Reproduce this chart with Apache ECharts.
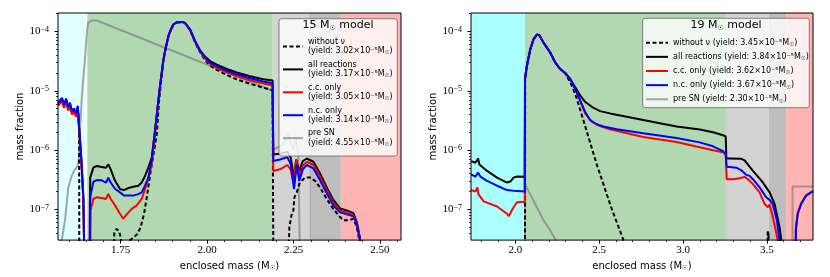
<!DOCTYPE html>
<html><head><meta charset="utf-8">
<script src="https://cdn.jsdelivr.net/npm/echarts@6/dist/echarts.min.js"></script>
<style>html,body{margin:0;padding:0;background:#fff}#c{width:830px;height:277px}</style>
</head><body><div id="c"></div>
<script>
// ---------------- data (enclosed mass [Msun], mass fraction) ----------------
// 15 Msun model
const L_without = [[1.569,5.98e-6],[1.574,6.53e-6],[1.580,7.17e-6],[1.586,5.54e-6],[1.592,6.98e-6],[1.598,5.00e-6],[1.603,5.98e-6],[1.609,4.29e-6],[1.615,4.76e-6],[1.621,3.93e-6],[1.626,5.27e-6],[1.6294,2.6e-6],[1.6300,2.8e-7],[1.6303,1e-9],
[1.7234,1e-9],[1.7316,4.03e-8],[1.7385,4.70e-8],[1.7451,4.30e-8],[1.7509,3.24e-8],[1.7558,1e-9],[1.7720,1e-9],[1.7770,3.05e-8],[1.7865,3.33e-8],[1.7981,3.84e-8],[1.8079,5.07e-8],[1.8175,8.45e-8],[1.8270,1.81e-7],[1.8369,4.46e-7],[1.8464,9.6e-7],[1.8542,1.8e-6],[1.8617,7.4e-6],
[1.873,3.1e-5],[1.8783,4.6e-5],[1.888,8.2e-5],[1.8928,9.9e-5],[1.902,1.30e-4],[1.911,1.41e-4],[1.9217,1.44e-4],[1.930,1.43e-4],[1.9362,1.38e-4],[1.9507,1.05e-4],[1.9651,6.6e-5],
[1.9796,4.48e-5],[1.9940,3.29e-5],[2.0085,2.67e-5],[2.0279,2.25e-5],[2.0568,1.85e-5],[2.0858,1.56e-5],[2.1243,1.31e-5],[2.1627,1.13e-5],[2.1895,1.02e-5],[2.1925,1e-9],
[2.2314,1e-9],[2.2380,5.07e-8],[2.2450,8.45e-8],[2.2496,9.62e-8],[2.2525,1.60e-7],[2.2594,1.94e-7],[2.2669,2.67e-7],[2.2739,3.04e-7],[2.2834,3.44e-7],[2.2884,3.58e-7],[2.2979,3.44e-7],[2.3124,3.04e-7],[2.3268,2.35e-7],[2.3462,1.50e-7],[2.3653,1.02e-7],[2.3847,7.44e-8],[2.3942,6.56e-8],[2.4088,6.56e-8],[2.4232,6.98e-8],[2.4330,5.07e-8],[2.4406,3.0e-8],[2.444,1e-9]];
const L_all = [[1.569,5.98e-6],[1.574,6.53e-6],[1.580,7.17e-6],[1.586,5.54e-6],[1.592,6.98e-6],[1.598,5.00e-6],[1.603,5.98e-6],[1.609,4.29e-6],[1.615,4.76e-6],[1.621,3.93e-6],[1.626,5.27e-6],[1.630,2.21e-6],[1.636,7.0e-7],[1.642,1.51e-7],[1.648,1e-9],
[1.6600,1e-9],[1.6618,3.44e-7],[1.6708,5.06e-7],[1.6806,5.40e-7],[1.6951,5.19e-7],[1.7075,5.06e-7],[1.7142,5.74e-7],[1.7211,4.74e-7],[1.7336,3.04e-7],[1.7480,2.20e-7],[1.7596,2.12e-7],[1.7720,2.29e-7],[1.7865,2.41e-7],[1.8010,2.51e-7],[1.8108,2.84e-7],[1.8204,3.68e-7],[1.8299,5.06e-7],[1.8398,7.41e-7],
[1.851,2.6e-6],[1.862,1.0e-5],[1.873,3.17e-5],[1.8783,4.7e-5],[1.888,8.35e-5],[1.8928,1.0e-4],[1.902,1.31e-4],[1.911,1.42e-4],[1.9217,1.45e-4],[1.930,1.44e-4],[1.9362,1.40e-4],[1.9507,1.08e-4],[1.9651,6.95e-5],
[1.9796,4.82e-5],[1.9940,3.77e-5],[2.0085,3.17e-5],[2.0279,2.77e-5],[2.0568,2.33e-5],[2.0858,2.04e-5],[2.1243,1.76e-5],[2.1627,1.57e-5],[2.1895,1.49e-5],
[2.1915,8.41e-7],[2.2111,8.65e-7],[2.2322,9.34e-7],[2.2420,7.41e-7],[2.2516,3.44e-7],[2.2574,6.95e-7],[2.2669,4.46e-7],[2.2768,6.54e-7],[2.2884,7.22e-7],[2.3075,6.37e-7],[2.3268,4.02e-7],[2.3462,2.35e-7],[2.3653,1.45e-7],[2.3847,1.04e-7],[2.4041,9.62e-8],[2.4232,8.68e-8],[2.4330,6.15e-8],[2.4426,3.24e-8],[2.446,1e-9]];
const L_cc = [[1.569,5.55e-6],[1.574,6.06e-6],[1.580,6.64e-6],[1.586,5.14e-6],[1.592,6.47e-6],[1.598,4.64e-6],[1.603,5.55e-6],[1.609,3.97e-6],[1.615,4.41e-6],[1.621,3.64e-6],[1.626,4.88e-6],[1.630,2.05e-6],[1.636,6.5e-7],[1.642,1.4e-7],[1.648,1e-9],
[1.6612,1e-9],[1.6629,9.7e-8],[1.6708,1.50e-7],[1.6806,1.60e-7],[1.6951,1.56e-7],[1.7075,1.50e-7],[1.7142,1.82e-7],[1.7211,1.50e-7],[1.7336,1.17e-7],[1.7480,8.45e-8],[1.7576,6.98e-8],[1.7674,8.26e-8],[1.7819,1.02e-7],[1.7963,1.17e-7],[1.8108,1.50e-7],[1.8253,2.67e-7],[1.8398,5.74e-7],
[1.851,2.4e-6],[1.862,9.6e-6],[1.873,3.1e-5],[1.8783,4.6e-5],[1.888,8.2e-5],[1.8928,9.9e-5],[1.902,1.30e-4],[1.911,1.41e-4],[1.9217,1.44e-4],[1.930,1.43e-4],[1.9362,1.38e-4],[1.9507,1.06e-4],[1.9651,6.7e-5],
[1.9796,4.56e-5],[1.9940,3.49e-5],[2.0085,2.88e-5],[2.0279,2.42e-5],[2.0568,2.04e-5],[2.0858,1.76e-5],[2.1243,1.51e-5],[2.1627,1.33e-5],[2.1895,1.23e-5],
[2.1915,4.46e-7],[2.2111,4.74e-7],[2.2322,5.61e-7],[2.2420,4.69e-7],[2.2495,2.85e-7],[2.2582,7.0e-7],[2.2669,3.44e-7],[2.2768,5.46e-7],[2.2884,6.37e-7],[2.3075,5.61e-7],[2.3268,3.54e-7],[2.3462,2.09e-7],[2.3653,1.29e-7],[2.3847,9.62e-8],[2.4041,8.77e-8],[2.4232,8.04e-8],[2.4330,5.92e-8],[2.4426,3.1e-8],[2.446,1e-9]];
const L_nc = [[1.569,6.34e-6],[1.574,6.92e-6],[1.580,7.59e-6],[1.586,5.87e-6],[1.592,7.39e-6],[1.598,5.30e-6],[1.603,6.34e-6],[1.609,4.54e-6],[1.615,5.04e-6],[1.621,4.16e-6],[1.626,5.58e-6],[1.630,2.34e-6],[1.636,7.41e-7],[1.642,1.60e-7],[1.648,1e-9],
[1.6592,1e-9],[1.6609,1.32e-7],[1.663,1.75e-7],[1.671,2.93e-7],[1.681,3.13e-7],[1.695,3.09e-7],[1.708,2.84e-7],[1.714,3.44e-7],[1.721,2.84e-7],[1.734,2.21e-7],[1.748,1.94e-7],[1.760,1.71e-7],[1.772,1.71e-7],[1.786,1.71e-7],[1.801,1.81e-7],[1.811,1.94e-7],[1.820,2.50e-7],[1.830,3.44e-7],[1.840,7.0e-7],
[1.851,2.6e-6],[1.862,1.0e-5],[1.873,3.17e-5],[1.8783,4.7e-5],[1.888,8.35e-5],[1.8928,1.0e-4],[1.902,1.31e-4],[1.911,1.42e-4],[1.9217,1.45e-4],[1.930,1.44e-4],[1.9362,1.40e-4],[1.9507,1.08e-4],[1.9651,6.89e-5],
[1.9796,4.70e-5],[1.9940,3.65e-5],[2.0085,3.01e-5],[2.0279,2.59e-5],[2.0568,2.18e-5],[2.0858,1.90e-5],[2.1243,1.63e-5],[2.1627,1.43e-5],[2.1895,1.34e-5],
[2.1915,6.54e-7],[2.2111,6.95e-7],[2.2322,7.62e-7],[2.2420,5.74e-7],[2.2516,2.20e-7],[2.2594,5.74e-7],[2.2669,3.04e-7],[2.2768,4.74e-7],[2.2884,5.61e-7],[2.3075,4.92e-7],[2.3268,3.11e-7],[2.3462,1.87e-7],[2.3653,1.17e-7],[2.3847,8.91e-8],[2.4041,8.26e-8],[2.4232,7.65e-8],[2.4330,5.77e-8],[2.4426,3.0e-8],[2.446,1e-9]];
const L_pre = [[1.5773,1e-9],[1.5793,3.0e-8],[1.5889,6.56e-8],[1.5984,2.35e-7],[1.6082,3.68e-7],[1.6178,4.74e-7],[1.6256,5.40e-7],[1.6294,7.41e-7],[1.6323,2.34e-6],[1.6343,3.43e-6],[1.6372,7.39e-6],[1.6418,1.59e-5],[1.6467,3.42e-5],[1.6511,7.95e-5],[1.6554,1.41e-4],[1.6610,1.52e-4],[1.6700,1.55e-4],[1.6806,1.53e-4],[2.1895,1.0e-5],[2.1915,1.02e-6],[2.2206,1.24e-6],[2.2305,1.70e-6],[2.2351,1.95e-6],[2.2400,1.41e-6],[2.2496,1.02e-6],[2.2565,1.70e-6],[2.2640,7.92e-7],[2.2718,1e-9]];
const L_zoneStart = [1.5686, 1.6534, 2.190, 2.2985, 2.387];
const L_zoneEnd   = [1.647, 2.190, 2.2985, 2.387, 2.561];
const L_boundaryLine = [[2.2985,1e-9],[2.2985,1e-2]];

// 19 Msun model
const R_without = [[1.7366,1e-9],[2.0575,1e-9],[2.0590,1.7e-5],[2.0696,2.65e-5],[2.0892,5.02e-5],[2.1088,7.36e-5],[2.1290,8.91e-5],[2.1445,8.58e-5],[2.1683,6.49e-5],[2.2081,4.42e-5],[2.2378,3.01e-5],[2.2675,2.33e-5],[2.2973,1.98e-5],[2.3072,1.76e-5],[2.3369,1.23e-5],[2.3668,7.39e-6],[2.3965,3.90e-6],[2.4263,2.06e-6],[2.4560,1.09e-6],[2.4857,5.74e-7],[2.5155,3.23e-7],[2.5452,1.81e-7],[2.5750,1.02e-7],[2.6046,6.14e-8],[2.6438,3.1e-8],[2.660,1e-9],[3.500,1e-9],[3.5050,4.5e-8],[3.5080,3.4e-8],[3.5100,4.0e-8],[3.5125,1e-9]];
const R_all = [[1.7366,6.54e-7],[1.7622,6.12e-7],[1.7723,6.54e-7],[1.7782,7.22e-7],[1.7860,5.74e-7],[1.8318,4.46e-7],[1.8912,3.44e-7],[1.9507,2.84e-7],[1.9703,2.95e-7],[1.9899,3.44e-7],[2.0101,3.58e-7],[2.0565,3.54e-7],
[2.0580,1.59e-5],[2.0696,2.65e-5],[2.0892,5.02e-5],[2.1088,7.36e-5],[2.1290,8.91e-5],[2.1445,8.58e-5],[2.1683,6.49e-5],[2.2081,4.42e-5],[2.2378,3.01e-5],[2.2675,2.33e-5],[2.2973,2.00e-5],[2.3270,1.59e-5],
[2.3567,1.16e-5],[2.3865,8.39e-6],[2.4162,6.52e-6],[2.4560,5.37e-6],[2.5054,4.54e-6],[2.5648,4.16e-6],[2.6641,3.66e-6],[2.7628,3.22e-6],[2.8621,2.84e-6],[2.9614,2.50e-6],[3.0999,2.22e-6],[3.1789,2.0e-6],[3.2386,1.78e-6],[3.2545,1.70e-6],
[3.2586,7.22e-7],[3.2783,7.22e-7],[3.3478,7.14e-7],[3.3674,6.69e-7],[3.4168,4.46e-7],[3.4762,2.85e-7],[3.5161,1.94e-7],[3.5458,1.24e-7],[3.5755,5.07e-8],[3.5857,3.0e-8],[3.590,1e-9]];
const R_cc = [[1.7366,2.12e-7],[1.7622,2.01e-7],[1.7741,2.35e-7],[1.7800,1.81e-7],[1.8116,1.37e-7],[1.8912,1.12e-7],[1.9507,8.45e-8],[1.9602,7.65e-8],[1.9899,1.09e-7],[2.0101,1.32e-7],[2.0565,1.35e-7],
[2.0580,1.59e-5],[2.0696,2.65e-5],[2.0892,5.02e-5],[2.1088,7.36e-5],[2.1290,8.91e-5],[2.1445,8.58e-5],[2.1683,6.49e-5],[2.2081,4.42e-5],[2.2378,3.01e-5],[2.2675,2.33e-5],[2.2973,2.00e-5],[2.3270,1.59e-5],
[2.3567,1.08e-5],[2.3865,6.92e-6],[2.4162,4.16e-6],[2.4560,3.03e-6],[2.4952,2.60e-6],[2.5648,2.25e-6],[2.7628,1.66e-6],[2.9614,1.37e-6],[3.0999,1.12e-6],[3.1789,9.96e-7],[3.2386,9.23e-7],[3.2545,8.65e-7],
[3.2605,3.23e-7],[3.2981,3.23e-7],[3.3377,3.36e-7],[3.3674,3.54e-7],[3.3870,3.23e-7],[3.4168,2.67e-7],[3.4566,1.94e-7],[3.4863,1.24e-7],[3.5060,1.09e-7],[3.5161,1.21e-7],[3.5357,7.44e-8],[3.5655,3.0e-8],[3.568,1e-9],
[3.665,1e-9],[3.6720,4.7e-8],[3.6830,8.6e-8],[3.7040,1.26e-7],[3.7340,1.73e-7],[3.7736,2.03e-7]];
const R_nc = [[1.7366,3.91e-7],[1.7622,3.58e-7],[1.7782,4.17e-7],[1.7919,3.58e-7],[1.8318,3.04e-7],[1.8912,2.51e-7],[1.9507,2.12e-7],[1.9899,2.07e-7],[2.0565,2.01e-7],
[2.0580,1.59e-5],[2.0696,2.65e-5],[2.0892,5.02e-5],[2.1088,7.36e-5],[2.1290,8.91e-5],[2.1445,8.58e-5],[2.1683,6.49e-5],[2.2081,4.42e-5],[2.2378,3.01e-5],[2.2675,2.33e-5],[2.2973,2.00e-5],[2.3270,1.59e-5],
[2.3567,1.08e-5],[2.3865,6.92e-6],[2.4162,4.44e-6],[2.4459,3.22e-6],[2.4858,2.73e-6],[2.5250,2.50e-6],[2.6046,2.25e-6],[2.7628,1.93e-6],[2.9614,1.60e-6],[3.0999,1.35e-6],[3.1789,1.16e-6],[3.2386,9.59e-7],[3.2545,8.41e-7],
[3.2605,5.19e-7],[3.2783,5.19e-7],[3.3181,5.06e-7],[3.3478,4.56e-7],[3.3775,3.82e-7],[3.3972,3.68e-7],[3.4168,3.23e-7],[3.4566,2.35e-7],[3.4964,1.60e-7],[3.5161,1.45e-7],[3.5357,1.21e-7],[3.5595,6.56e-8],[3.5755,3.0e-8],[3.578,1e-9],
[3.666,1e-9],[3.6736,4.70e-8],[3.6843,8.45e-8],[3.7046,1.24e-7],[3.7343,1.71e-7],[3.7736,2.01e-7]];
const R_pre = [[1.7366,1e-9],[2.0570,1e-9],[2.0585,2.6e-7],[2.0892,1.81e-7],[2.1290,1.09e-7],[2.1683,6.56e-8],[2.2081,4.46e-8],[2.2420,3.0e-8],[2.250,1e-9],[3.652,1e-9],[3.653,2.44e-7],[3.776,2.44e-7]];
const R_zoneStart = [1.736, 2.0577, 3.256, 3.512, 3.615];
const R_zoneEnd   = [2.0577, 3.256, 3.512, 3.615, 3.775];

// legend labels
const L_names = ['without ν\n(yield: 3.02×10⁻⁵M☉)','all reactions\n(yield: 3.17×10⁻⁵M☉)','c.c. only\n(yield: 3.05×10⁻⁵M☉)','n.c. only\n(yield: 3.14×10⁻⁵M☉)','pre SN\n(yield: 4.55×10⁻⁵M☉)'];
const R_names = ['without ν (yield: 3.45×10⁻⁵M☉)','all reactions (yield: 3.84×10⁻⁵M☉)','c.c. only (yield: 3.62×10⁻⁵M☉)','n.c. only (yield: 3.67×10⁻⁵M☉)','pre SN (yield: 2.30×10⁻⁵M☉)'];
const L_xTicks = [1.75, 2.00, 2.25, 2.50];
const R_xTicks = [2.0, 2.5, 3.0, 3.5];
const yTickExp = [-7, -6, -5, -4];

// ---------------- chart ----------------
const YMIN = 3.04e-8, YMAX = 2.05e-4;
const EMIN = Math.log10(YMIN), EMAX = Math.log10(YMAX);
const minorExp = [];
for (let n = -8; n <= -4; n++) for (let k = 2; k <= 9; k++) { const e = Math.log10(k) + n; if (e > EMIN && e < EMAX) minorExp.push(e); }
function minorX(a, b, step, majors) {
  const out = [];
  for (let i = Math.ceil(a / step); i * step <= b; i++) { const v = +(i * step).toFixed(4); if (!majors.some(m => Math.abs(m - v) < 1e-6)) out.push(v); }
  return out;
}
const zoneColorsL = ['#e0ffff', '#b2d8b2', '#d3d3d3', '#bdbdbd', '#ffb3b3'];
const zoneColorsR = ['#aaffff', '#b2d8b2', '#d3d3d3', '#bdbdbd', '#ffb3b3'];
const serif = 'Liberation Serif';
const subRich = { fontSize: 6.5, lineHeight: 6, verticalAlign: 'bottom', color: '#000', fontFamily: 'DejaVu Sans' };

function xAxes(gi, min, max, majors, minors, digits) {
  return [{
    type: 'value', gridIndex: gi, min, max, position: 'bottom',
    axisLine: { show: false }, splitLine: { show: false },
    axisTick: { show: true, customValues: majors, length: 3.5, lineStyle: { color: '#000', width: 1 } },
    axisLabel: { customValues: majors, formatter: v => Number(v).toFixed(digits), margin: 5, fontSize: 11, color: '#000', fontFamily: serif },
    name: '{t|enclosed mass (M}{s|☉}{t|)}', nameLocation: 'middle', nameGap: 17,
    nameTextStyle: { rich: { t: { fontSize: 10, lineHeight: 12, color: '#000', fontFamily: 'DejaVu Sans' }, s: subRich } }
  }, {
    type: 'value', gridIndex: gi, min, max, position: 'bottom',
    axisLine: { show: false }, splitLine: { show: false }, axisLabel: { show: false },
    axisTick: { show: true, customValues: minors, length: 2, lineStyle: { color: '#000', width: 0.8 } }
  }];
}
function yAxes(gi, nameGap) {
  return [
    { type: 'log', logBase: 10, gridIndex: gi, min: YMIN, max: YMAX, show: false },
    { type: 'value', gridIndex: gi, min: EMIN, max: EMAX, position: 'left',
      axisLine: { show: false }, splitLine: { show: false },
      axisTick: { show: true, customValues: yTickExp, length: 3.5, lineStyle: { color: '#000', width: 1 } },
      axisLabel: { customValues: yTickExp, margin: 9, formatter: v => '{b|10}{s|−' + Math.round(-v) + '}',
        rich: { b: { fontSize: 11, lineHeight: 12, color: '#000', fontFamily: serif },
                s: { fontSize: 8, lineHeight: 7, verticalAlign: 'top', color: '#000', fontFamily: serif } } },
      name: 'mass fraction', nameLocation: 'middle', nameGap,
      nameTextStyle: { fontSize: 10, color: '#000', fontFamily: 'DejaVu Sans' } },
    { type: 'value', gridIndex: gi, min: EMIN, max: EMAX, position: 'left',
      axisLine: { show: false }, splitLine: { show: false }, axisLabel: { show: false },
      axisTick: { show: true, customValues: minorExp, length: 2, lineStyle: { color: '#000', width: 0.8 } } }
  ];
}
function zones(gi, starts, ends, colors) {
  return { type: 'custom', xAxisIndex: gi * 2, yAxisIndex: gi * 3, z: 1, silent: true,
    data: starts.map((s, i) => [s, ends[i], i, 1e-5]), encode: { x: [0, 1], y: 3 },
    renderItem: (params, api) => {
      const cs = params.coordSys;
      const x0 = api.coord([api.value(0), 1e-5])[0], x1 = api.coord([api.value(1), 1e-5])[0];
      return { type: 'rect', shape: { x: x0, y: cs.y, width: x1 - x0, height: cs.height }, style: { fill: colors[api.value(2)] } };
    } };
}
function line(gi, name, data, color, dashed, z) {
  return { type: 'line', name, data, xAxisIndex: gi * 2, yAxisIndex: gi * 3, showSymbol: false, symbol: 'none',
    clip: true, z, silent: true, emphasis: { disabled: true },
    lineStyle: { color, width: 2, type: dashed ? [4, 2.5] : 'solid' }, itemStyle: { color } };
}
const preColor = 'rgba(128,128,128,0.7)';
const legendFmt = n => n.replace(/☉/g, '{s|☉}');
const legendText = (lh) => ({ fontSize: 8, lineHeight: lh, color: '#000', fontFamily: 'DejaVu Sans', rich: { s: { fontSize: 5.5, lineHeight: 5, verticalAlign: 'bottom', color: '#000' } } });
const titleRich = { a: { fontSize: 11, lineHeight: 13, fill: '#000', fontFamily: 'DejaVu Sans' }, s: { fontSize: 7, lineHeight: 7, verticalAlign: 'bottom', fill: '#000', fontFamily: 'DejaVu Sans' } };

const option = {
  animation: false,
  backgroundColor: '#fff',
  textStyle: { fontFamily: 'DejaVu Sans' },
  grid: [
    { left: 58, top: 13, width: 343, height: 230, show: true, borderColor: '#000', borderWidth: 1, backgroundColor: 'rgba(0,0,0,0)', z: 3 },
    { left: 471, top: 13, width: 342, height: 230, show: true, borderColor: '#000', borderWidth: 1, backgroundColor: 'rgba(0,0,0,0)', z: 3 }
  ],
  xAxis: [
    ...xAxes(0, 1.5686, 2.561, L_xTicks, minorX(1.5686, 2.561, 0.05, L_xTicks), 2),
    ...xAxes(1, 1.736, 3.775, R_xTicks, minorX(1.736, 3.775, 0.1, R_xTicks), 1)
  ],
  yAxis: [...yAxes(0, 31), ...yAxes(1, 32)],
  legend: [
    { data: L_names, orient: 'vertical', left: 282, top: 37, padding: 0, itemWidth: 20, itemHeight: 10, itemGap: 3.9,
      selectedMode: false, z: 10, formatter: legendFmt, textStyle: legendText(9.5), itemStyle: { opacity: 0 } },
    { data: R_names, orient: 'vertical', left: 645, top: 37.7, padding: 0, itemWidth: 22, itemHeight: 10, itemGap: 4.15,
      selectedMode: false, z: 10, formatter: legendFmt, textStyle: legendText(10), itemStyle: { opacity: 0 } }
  ],
  graphic: [
    { type: 'rect', z: 5, shape: { x: 279, y: 18.7, width: 118.3, height: 137.3, r: 2.5 }, style: { fill: 'rgba(255,255,255,0.8)', stroke: '#666', lineWidth: 0.8 } },
    { type: 'text', z: 6, x: 338, y: 25.5, style: { text: '{a|15 M}{s|☉}{a| model}', rich: titleRich, align: 'center', verticalAlign: 'middle' } },
    { type: 'rect', z: 5, shape: { x: 642.7, y: 18.3, width: 166.6, height: 89.4, r: 2.5 }, style: { fill: 'rgba(255,255,255,0.8)', stroke: '#666', lineWidth: 0.8 } },
    { type: 'text', z: 6, x: 726, y: 25.5, style: { text: '{a|19 M}{s|☉}{a| model}', rich: titleRich, align: 'center', verticalAlign: 'middle' } }
  ],
  series: [
    zones(0, L_zoneStart, L_zoneEnd, zoneColorsL),
    { type: 'line', data: L_boundaryLine, xAxisIndex: 0, yAxisIndex: 0, symbol: 'none', showSymbol: false, clip: true, z: 1.5, silent: true, lineStyle: { color: '#a8a8a8', width: 1 } },
    line(0, L_names[4], L_pre, preColor, false, 2),
    line(0, L_names[0], L_without, '#000', true, 2),
    line(0, L_names[1], L_all, '#000', false, 2),
    line(0, L_names[2], L_cc, '#ff0000', false, 2),
    line(0, L_names[3], L_nc, '#0000ff', false, 2),
    zones(1, R_zoneStart, R_zoneEnd, zoneColorsR),
    line(1, R_names[4], R_pre, preColor, false, 2),
    line(1, R_names[0], R_without, '#000', true, 2),
    line(1, R_names[1], R_all, '#000', false, 2),
    line(1, R_names[2], R_cc, '#ff0000', false, 2),
    line(1, R_names[3], R_nc, '#0000ff', false, 2)
  ]
};
const chart = echarts.init(document.getElementById('c'), null, { renderer: 'canvas', width: 830, height: 277 });
chart.setOption(option);
</script></body></html>
